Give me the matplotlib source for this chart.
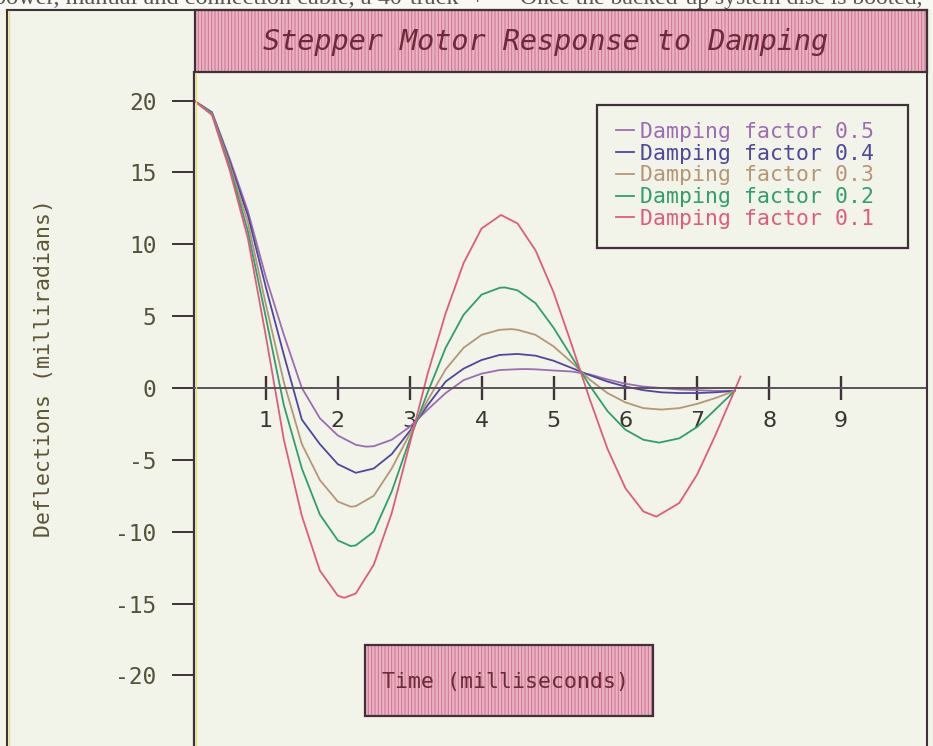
import matplotlib.pyplot as plt
from matplotlib.patches import Rectangle
from matplotlib.lines import Line2D

W, H = 933, 746

# deflection (milliradians) against time (ms) for each damping factor
t_05 = [0.0, 0.25, 0.5, 0.75, 1.0, 1.25, 1.5, 1.75, 2.0, 2.25, 2.39, 2.5,
        2.75, 3.0, 3.25, 3.5, 3.75, 4.0, 4.25, 4.5, 4.62, 4.75, 5.0, 5.25,
        5.5, 5.75, 6.0, 6.25, 6.5, 6.75, 7.0, 7.25, 7.52]
damp_05 = [20, 19.2, 15.9, 12.3, 7.7, 3.7, 0.0, -2.1, -3.3, -3.95, -4.08, -4.05,
           -3.6, -2.7, -1.5, -0.35, 0.55, 1.0, 1.25, 1.31, 1.32, 1.3, 1.22, 1.15,
           0.95, 0.6, 0.3, 0.1, 0.0, -0.1, -0.15, -0.2, -0.2]

t_04 = [0.0, 0.25, 0.5, 0.75, 1.0, 1.25, 1.5, 1.75, 2.0, 2.25, 2.5,
        2.75, 3.0, 3.25, 3.5, 3.75, 4.0, 4.25, 4.5, 4.75, 5.0, 5.25,
        5.5, 5.75, 6.0, 6.25, 6.5, 6.75, 7.0, 7.25, 7.52]
damp_04 = [20, 19.15, 15.7, 12.0, 7.0, 2.3, -2.2, -3.9, -5.3, -5.9, -5.6,
           -4.6, -3.0, -1.2, 0.45, 1.35, 1.95, 2.3, 2.37, 2.25, 1.9, 1.4,
           0.9, 0.45, 0.1, -0.15, -0.3, -0.35, -0.35, -0.3, -0.2]

t_03 = [0.0, 0.25, 0.5, 0.75, 1.0, 1.25, 1.5, 1.75, 2.0, 2.18, 2.25, 2.5,
        2.75, 3.0, 3.25, 3.5, 3.75, 4.0, 4.25, 4.41, 4.5, 4.75, 5.0, 5.25,
        5.5, 5.75, 6.0, 6.25, 6.5, 6.75, 7.0, 7.25, 7.52]
damp_03 = [20, 19.1, 15.5, 11.5, 5.8, 0.4, -3.9, -6.4, -7.9, -8.26, -8.22, -7.5,
           -5.6, -3.2, -0.85, 1.3, 2.8, 3.7, 4.05, 4.1, 4.05, 3.7, 2.9, 1.8,
           0.6, -0.35, -1.0, -1.4, -1.5, -1.4, -1.1, -0.7, -0.2]

t_02 = [0.0, 0.25, 0.5, 0.75, 1.0, 1.25, 1.5, 1.75, 2.0, 2.18, 2.25, 2.5,
        2.75, 3.0, 3.25, 3.5, 3.75, 4.0, 4.25, 4.32, 4.5, 4.75, 5.0, 5.25,
        5.5, 5.75, 6.0, 6.25, 6.47, 6.75, 7.0, 7.25, 7.52]
damp_02 = [20, 19.05, 15.3, 10.9, 4.9, -1.2, -5.6, -8.8, -10.6, -11.0, -10.95, -10.0,
           -7.2, -3.6, -0.3, 2.8, 5.1, 6.5, 6.97, 7.0, 6.8, 5.9, 4.2, 2.2,
           0.2, -1.6, -2.9, -3.6, -3.8, -3.5, -2.7, -1.5, -0.2]

t_01 = [0.0, 0.25, 0.5, 0.75, 1.0, 1.25, 1.5, 1.75, 2.0, 2.09, 2.25, 2.5,
        2.75, 3.0, 3.25, 3.5, 3.75, 4.0, 4.27, 4.5, 4.75, 5.0, 5.25,
        5.5, 5.75, 6.0, 6.25, 6.43, 6.75, 7.0, 7.25, 7.5, 7.6]
damp_01 = [20, 19.0, 15.1, 10.4, 3.6, -3.6, -8.9, -12.7, -14.45, -14.6, -14.3, -12.3,
           -8.7, -3.9, 1.0, 5.2, 8.7, 11.1, 12.04, 11.45, 9.58, 6.67, 3.06,
           -0.72, -4.22, -6.97, -8.59, -8.95, -8.0, -6.0, -3.3, -0.4, 0.8]

series = [
    ('Damping factor 0.5', t_05, damp_05, '#9c6cb4'),
    ('Damping factor 0.4', t_04, damp_04, '#4f479e'),
    ('Damping factor 0.3', t_03, damp_03, '#b59676'),
    ('Damping factor 0.2', t_02, damp_02, '#2f9f6c'),
    ('Damping factor 0.1', t_01, damp_01, '#e05c7c'),
]

x_ticks = [1, 2, 3, 4, 5, 6, 7, 8, 9]
y_ticks = [-20, -15, -10, -5, 0, 5, 10, 15, 20]

bg = '#f2f3e9'
ink = '#3e3238'
pink = '#eab2c2'
stripe = '#cf7491'


def fx(px):
    return px / W


def fy(py):
    return 1 - py / H


def striped_box(x0, y0, x1, y1):
    # pink box with fine vertical stripes and a dark border
    fig.add_artist(Rectangle((fx(x0), fy(y1)), fx(x1) - fx(x0), fy(y0) - fy(y1),
                             transform=fig.transFigure, facecolor=pink,
                             edgecolor=stripe, hatch='|||||', linewidth=0))
    fig.add_artist(Rectangle((fx(x0), fy(y1)), fx(x1) - fx(x0), fy(y0) - fy(y1),
                             transform=fig.transFigure, fill=False,
                             edgecolor=ink, linewidth=1.6))


plt.rcParams['hatch.linewidth'] = 0.7

fig = plt.figure(figsize=(W / 100, H / 100), dpi=100, facecolor=bg)

# strip of page above the frame
fig.add_artist(Rectangle((0, fy(10)), 1, 10 / H, transform=fig.transFigure,
                         facecolor='#f9f9f4', edgecolor='none'))
fig.text(fx(-6), fy(4), 'power, manual and connection cable, a 40-track  +',
         family='Liberation Serif', fontsize=17.5, color='#555555', va='baseline')
fig.text(fx(520), fy(4), 'Once the backed-up system disc is booted,',
         family='Liberation Serif', fontsize=17, color='#555555', va='baseline')

ax = fig.add_axes([fx(194), 0, fx(927) - fx(194), fy(72)])
ax.set_facecolor(bg)

for label, t, v, c in series:
    ax.plot(t, v, color=c, linewidth=1.3, label=label)

ax.set_xlim(0, (927 - 194) / 71.9)
ax.set_ylim(-24.91, 21.99)

ax.spines['top'].set_visible(False)
ax.spines['right'].set_visible(False)
ax.spines['left'].set_color(ink)
ax.spines['left'].set_linewidth(1.6)
ax.spines['bottom'].set_position(('data', 0))
ax.spines['bottom'].set_color('#5a5258')
ax.spines['bottom'].set_linewidth(1.4)

ax.set_xticks(x_ticks)
ax.set_xticklabels([str(v) for v in x_ticks], family='DejaVu Sans',
                   fontsize=16, color='#3a3434')
ax.tick_params(axis='x', direction='inout', length=17, width=1.7,
               color=ink, pad=8)
ax.set_yticks(y_ticks)
ax.set_yticklabels([str(v) for v in y_ticks], family='DejaVu Sans Mono',
                   fontsize=16.5, color='#54523c')
ax.tick_params(axis='y', direction='out', length=16, width=1.4,
               color=ink, pad=11)

# outer frame
for xs, ys in [((7, 7), (10, H)), ((7, 927), (10, 10)), ((927, 927), (10, H))]:
    fig.add_artist(Line2D([fx(p) for p in xs], [fy(p) for p in ys],
                          transform=fig.transFigure, color=ink, linewidth=1.5))
fig.add_artist(Line2D([fx(9), fx(9)], [fy(11), 0], transform=fig.transFigure,
                      color='#e6df7a', linewidth=1))
fig.add_artist(Line2D([fx(196), fx(196)], [fy(73), 0], transform=fig.transFigure,
                      color='#e6df7a', linewidth=0.9))

# title
striped_box(195, 10, 927, 72)
fig.text(fx(546), fy(42), 'Stepper Motor Response to Damping',
         family='DejaVu Sans Mono', style='italic', fontsize=20.5,
         color='#6e2a3c', ha='center', va='center')

# axis titles
fig.text(fx(44), fy(368), 'Deflections (milliradians)', rotation=90,
         family='DejaVu Sans Mono', fontsize=15.5, color='#5c5634',
         ha='center', va='center')
striped_box(365, 645, 653, 716)
fig.text(fx(505), fy(682), 'Time (milliseconds)', family='DejaVu Sans Mono',
         fontsize=15.5, color='#6a2a38', ha='center', va='center')

# legend in its own framed box
ax.add_patch(Rectangle((fx(597), fy(248)), fx(908) - fx(597), fy(105) - fy(248),
                       transform=fig.transFigure, facecolor=bg,
                       edgecolor=ink, linewidth=1.6, zorder=4))
leg = ax.legend(loc='upper left', bbox_to_anchor=(fx(616), fy(122)),
                bbox_transform=fig.transFigure, frameon=False,
                prop={'family': 'DejaVu Sans Mono', 'size': 15.5},
                labelcolor='linecolor', handlelength=0.85, handletextpad=0.25,
                labelspacing=0.08, borderpad=0, borderaxespad=0)
leg.set_zorder(5)

fig.savefig('out.png', dpi=100, facecolor=bg)
